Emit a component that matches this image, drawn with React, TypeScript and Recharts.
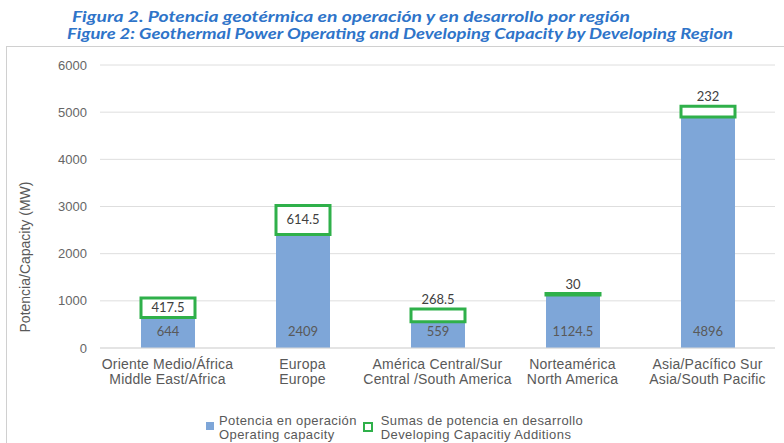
import { BarChart, Bar, XAxis, YAxis, CartesianGrid, LabelList } from "recharts"

const regionsEs = ['Oriente Medio/África', 'Europa', 'América Central/Sur', 'Norteamérica', 'Asia/Pacífico Sur']
const regionsEn = ['Middle East/Africa', 'Europe', 'Central /South America', 'North America', 'Asia/South Pacific']
const operating = [644, 2409, 559, 1124.5, 4896]
const developing = [417.5, 614.5, 268.5, 30, 232]
const yTicks = [0, 1000, 2000, 3000, 4000, 5000, 6000]

const data = regionsEs.map((es, i) => ({
  name: es + '\n' + regionsEn[i],
  operating: operating[i],
  developing: developing[i],
}))

const BLUE = '#7ea6d8'
const GREEN = '#2fb04a'
const GRAY = '#595959'

function RegionTick(props: any) {
  const { x, y, payload } = props
  const [es, en] = String(payload.value).split('\n')
  return (
    <g transform={`translate(${x},${y})`}>
      <text textAnchor="middle" fill={GRAY} fontSize={14} letterSpacing={0.2} fontFamily="Liberation Sans, Arial, sans-serif">
        <tspan x={0} dy={13}>{es}</tspan>
        <tspan x={0} dy={15}>{en}</tspan>
      </text>
    </g>
  )
}

function OperatingLabel(props: any) {
  const { x, y, width, height, value } = props
  return (
    <text x={x + width / 2} y={y + height - 12} textAnchor="middle" fill={GRAY} fontSize={13} fontFamily="Lato, sans-serif">
      {value}
    </text>
  )
}

function DevelopingLabel(props: any) {
  const { x, y, width, height, value } = props
  const inside = height > 15
  return (
    <text
      x={x + width / 2}
      y={inside ? y + height / 2 + 4.5 : y - 5}
      textAnchor="middle"
      fill="#404040"
      fontSize={13}
      fontFamily="Lato, sans-serif"
    >
      {value}
    </text>
  )
}

export default function App() {
  return (
    <div style={{ position: 'absolute', left: 0, top: 0, width: 784, height: 443, background: '#fff', overflow: 'hidden' }}>
      <svg width={784} height={46} style={{ position: 'absolute', left: 0, top: 0 }}>
        <text x={72} y={22} fill="#2e74c9" fontSize={15} fontWeight="bold" fontStyle="italic" fontFamily="Lato, sans-serif"
          textLength={558} lengthAdjust="spacingAndGlyphs">
          Figura 2. Potencia geotérmica en operación y en desarrollo por región
        </text>
        <text x={67} y={39} fill="#2e74c9" fontSize={15} fontWeight="bold" fontStyle="italic" fontFamily="Lato, sans-serif"
          textLength={666} lengthAdjust="spacingAndGlyphs">
          Figure 2: Geothermal Power Operating and Developing Capacity by Developing Region
        </text>
      </svg>
      <div style={{ position: 'absolute', left: 6, top: 46, width: 800, height: 420, border: '1px solid #d0d0d0', boxSizing: 'border-box' }} />
      <div style={{ position: 'absolute', left: 0, top: 0 }}>
        <BarChart width={784} height={443} data={data} margin={{ top: 65, right: 9, bottom: 55, left: 40 }} barSize={54}>
          <CartesianGrid vertical={false} stroke="#dedede" />
          <XAxis dataKey="name" height={40} tick={<RegionTick />} tickLine={false} axisLine={{ stroke: '#d9d9d9' }} interval={0} />
          <YAxis
            domain={[0, 6000]}
            ticks={yTicks}
            width={60}
            tickLine={false}
            axisLine={false}
            tick={{ fill: '#666', fontSize: 13, fontFamily: 'Liberation Sans, Arial, sans-serif' }}
            tickMargin={7}
          />
          <Bar dataKey="operating" stackId="a" fill={BLUE} isAnimationActive={false}>
            <LabelList dataKey="operating" content={<OperatingLabel />} />
          </Bar>
          <Bar dataKey="developing" stackId="a" fill="#ffffff" stroke={GREEN} strokeWidth={3} isAnimationActive={false}>
            <LabelList dataKey="developing" content={<DevelopingLabel />} />
          </Bar>
        </BarChart>
      </div>
      <svg width={60} height={200} style={{ position: 'absolute', left: 0, top: 157 }}>
        <text transform="translate(30,100) rotate(-90)" textAnchor="middle" fill={GRAY} fontSize={14}
          fontFamily="Liberation Sans, Arial, sans-serif">
          Potencia/Capacity (MW)
        </text>
      </svg>
      <div style={{ position: 'absolute', left: 206, top: 414, display: 'flex', fontFamily: 'Liberation Sans, Arial, sans-serif', fontSize: 13, letterSpacing: 0.4, color: GRAY, lineHeight: '13.5px' }}>
        <div style={{ display: 'flex', alignItems: 'flex-start' }}>
          <div style={{ width: 8, height: 8, background: BLUE, marginTop: 8, marginRight: 5 }} />
          <div>Potencia en operación<br />Operating capacity</div>
        </div>
        <div style={{ display: 'flex', alignItems: 'flex-start', marginLeft: 6 }}>
          <div style={{ width: 6, height: 6, border: `2px solid ${GREEN}`, marginTop: 8, marginRight: 8 }} />
          <div>Sumas de potencia en desarrollo<br />Developing Capacitiy Additions</div>
        </div>
      </div>
    </div>
  )
}
